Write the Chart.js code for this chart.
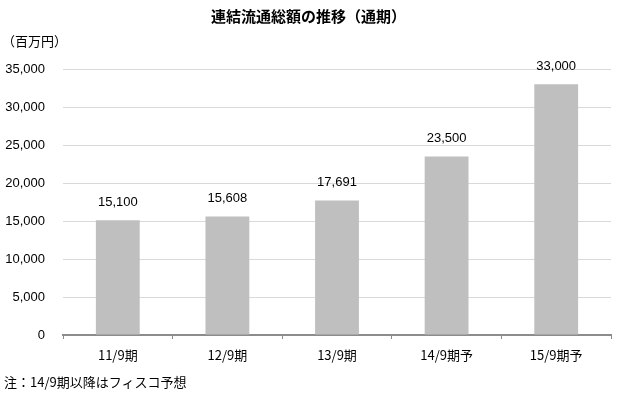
<!DOCTYPE html>
<html>
<head>
<meta charset="utf-8">
<script src="https://cdn.jsdelivr.net/npm/chart.js@4"></script>
<style>
    body { margin: 0; background: #fff; }
    #wrap { position: relative; width: 617px; height: 395px; }
    #chart { position: absolute; left: 0; top: 0; }
    .txt { position: absolute; font-family: "Noto Sans CJK JP", sans-serif; color: #000; white-space: nowrap; line-height: 1; }
    #title { left: 0; width: 617px; top: 8px; text-align: center; font-size: 15px; font-weight: bold; }
    #unit { left: 2px; top: 34px; font-size: 13px; }
    #note { left: 4px; top: 375px; font-size: 13px; }
</style>
</head>
<body>
<div id="wrap">
    <canvas id="chart" width="617" height="395"></canvas>
    <div class="txt" id="title">連結流通総額の推移（通期）</div>
    <div class="txt" id="unit">（百万円）</div>
    <div class="txt" id="note">注：14/9期以降はフィスコ予想</div>
</div>
<script>
// Data
const categories = ["11/9期", "12/9期", "13/9期", "14/9期予", "15/9期予"];
const totals = [15100, 15608, 17691, 23500, 33000];
const yTicks = [0, 5000, 10000, 15000, 20000, 25000, 30000, 35000];

// Value labels above bars
const valueLabels = {
    id: "valueLabels",
    afterDatasetsDraw(chart) {
        const ctx = chart.ctx;
        const meta = chart.getDatasetMeta(0);
        ctx.save();
        ctx.font = "13px 'Liberation Sans', Arial, sans-serif";
        ctx.fillStyle = "#000";
        ctx.textAlign = "center";
        ctx.textBaseline = "middle";
        meta.data.forEach((bar, i) => {
            ctx.fillText(totals[i].toLocaleString("en-US"), bar.x, bar.y - 18);
        });
        ctx.restore();
    }
};

new Chart(document.getElementById("chart").getContext("2d"), {
    type: "bar",
    data: {
        labels: categories,
        datasets: [{
            data: totals,
            backgroundColor: "#bfbfbf",
            barPercentage: 0.4,
            categoryPercentage: 1.0,
        }]
    },
    options: {
        responsive: false,
        animation: false,
        layout: { padding: { top: 69, right: 6, left: 0, bottom: 0 } },
        plugins: {
            legend: { display: false },
            tooltip: { enabled: false },
        },
        scales: {
            x: {
                afterFit(scale) { scale.height = 60; },
                grid: {
                    offset: true,
                    drawOnChartArea: false,
                    drawTicks: true,
                    tickLength: 4,
                    color: "#8c8c8c",
                },
                border: { color: "#8c8c8c", width: 2 },
                ticks: {
                    padding: 8,
                    color: "#000",
                    font: { family: "'Noto Sans CJK JP', sans-serif", size: 13 },
                },
            },
            y: {
                min: 0,
                max: 35000,
                afterFit(scale) { scale.width = 63; },
                afterBuildTicks(scale) { scale.ticks = yTicks.map(v => ({ value: v })); },
                grid: { color: "#d9d9d9", drawTicks: false },
                border: { display: false },
                ticks: {
                    padding: 18,
                    color: "#000",
                    font: { family: "'Liberation Sans', Arial, sans-serif", size: 13 },
                    callback: v => v.toLocaleString("en-US"),
                },
            },
        },
    },
    plugins: [valueLabels],
});
</script>
</body>
</html>
